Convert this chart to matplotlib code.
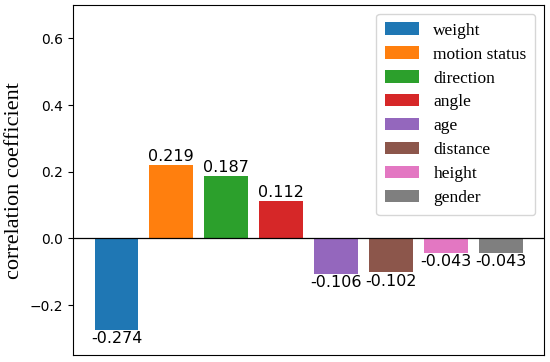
import matplotlib
matplotlib.use("Agg")
import matplotlib.pyplot as plt

# features and their correlation with the target
features = ["weight", "motion status", "direction", "angle",
            "age", "distance", "height", "gender"]
coef = [-0.274, 0.219, 0.187, 0.112, -0.106, -0.102, -0.043, -0.043]
colors = ["#1f77b4", "#ff7f0e", "#2ca02c", "#d62728",
          "#9467bd", "#8c564b", "#e377c2", "#7f7f7f"]

fig = plt.figure(figsize=(5.5, 3.62), dpi=100)
ax = fig.add_axes([0.133, 0.019, 0.856, 0.967])

x = range(len(features))
bars = ax.bar(x, coef, color=colors, width=0.8)

# value labels above / below each bar
for b, v in zip(bars, coef):
    if v >= 0:
        ax.text(b.get_x() + b.get_width() / 2, v + 0.003, f"{v:.3f}",
                ha="center", va="bottom", fontsize=11.5)
    else:
        ax.text(b.get_x() + b.get_width() / 2, v - 0.005, f"{v:.3f}",
                ha="center", va="top", fontsize=11.5)

ax.axhline(0, color="black", linewidth=0.9)
ax.set_ylim(-0.35, 0.70)
ax.set_yticks([-0.2, 0.0, 0.2, 0.4, 0.6])
ax.set_xticks([])
ax.tick_params(axis="y", labelsize=10)
ax.set_ylabel("correlation coefficient", fontsize=16, family="Liberation Serif")

for h, name in zip(bars, features):
    h.set_label(name)
ax.legend(handles=list(bars), loc="upper right",
          prop={"family": "Liberation Serif", "size": 12.5},
          handlelength=2.0, borderpad=0.5, labelspacing=0.45)

fig.savefig("out.png", dpi=100)
